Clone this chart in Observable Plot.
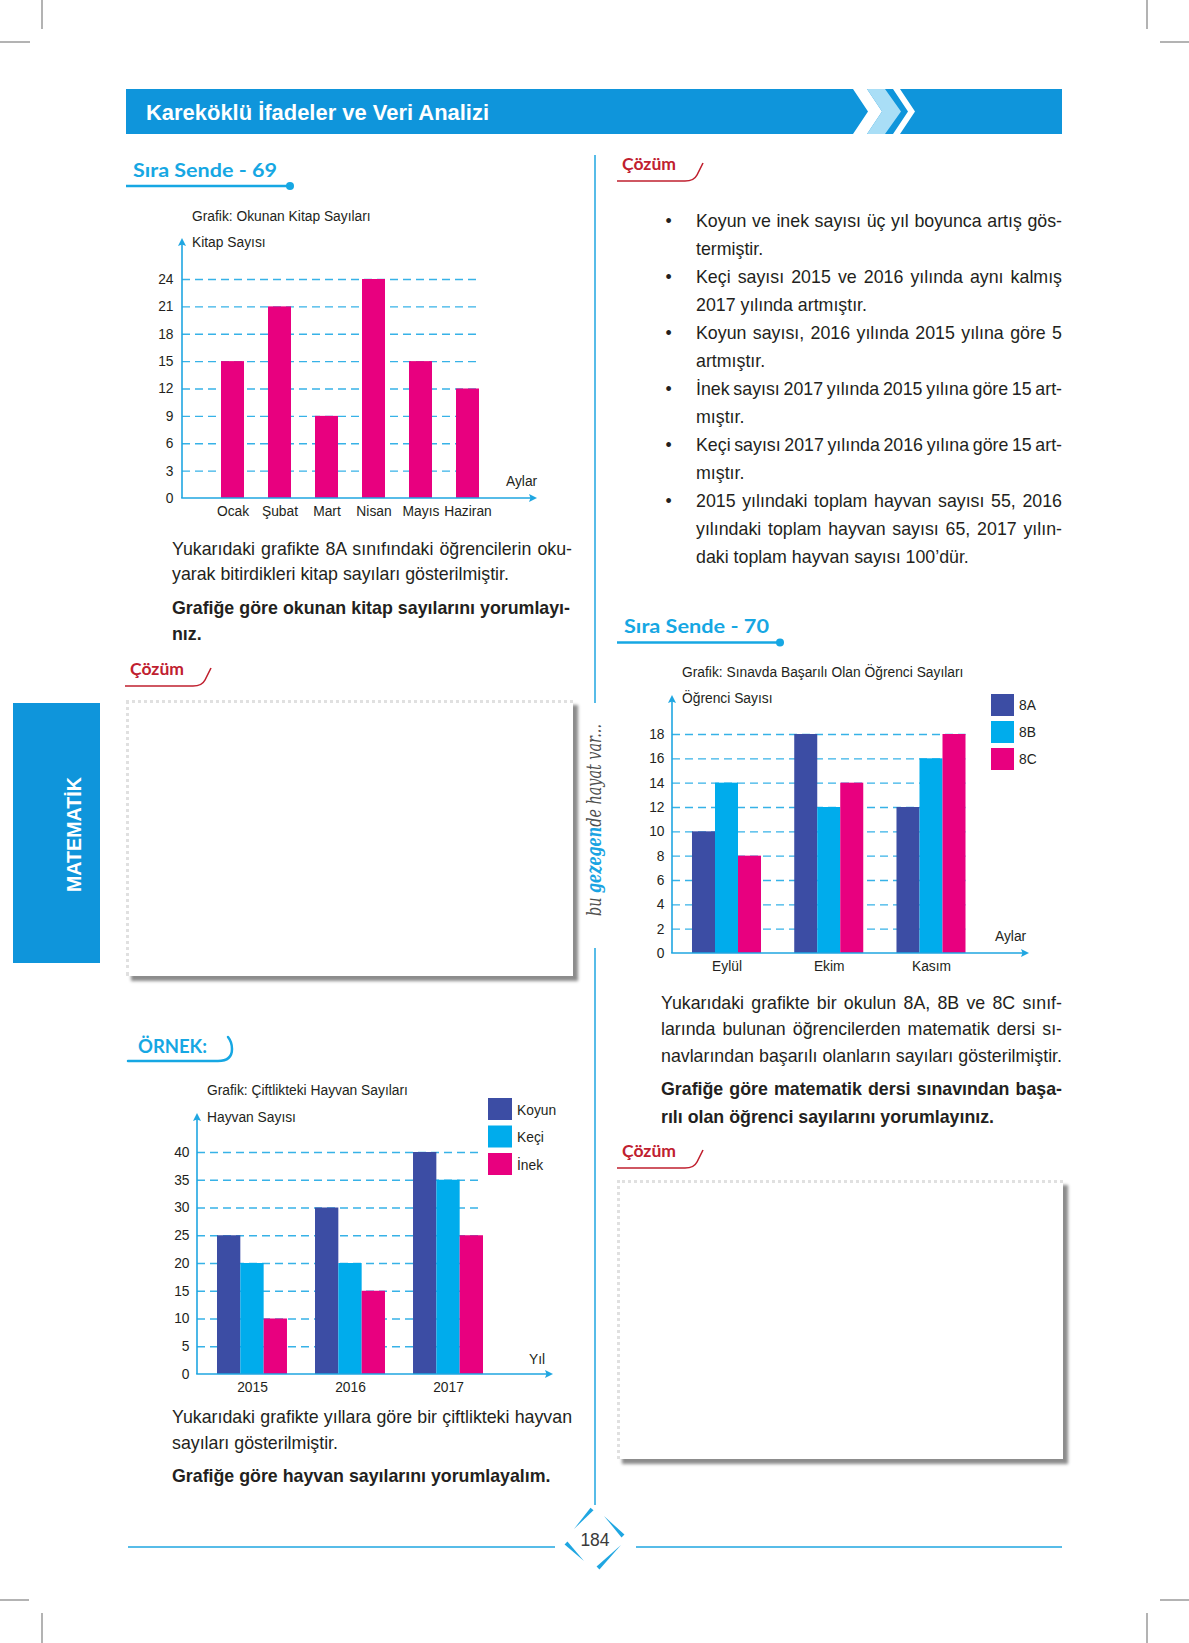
<!DOCTYPE html>
<html><head><meta charset="utf-8">
<script src="https://cdn.jsdelivr.net/npm/d3@7"></script>
<script src="https://cdn.jsdelivr.net/npm/@observablehq/plot@0.6"></script>
<style>
html,body{margin:0;padding:0;background:#fff;}
#page{position:relative;width:1189px;height:1643px;overflow:hidden;background:#fff;font-family:"Liberation Sans",Arial,sans-serif;}
.abs{position:absolute;left:0;top:0;}
.box{position:absolute;background:#fff;border-top:3px dotted #e0e0e0;border-left:3px dotted #e0e0e0;box-shadow:5px 5px 3px #8c8c8c;box-sizing:border-box;}
</style></head>
<body><div id="page"></div>
<script>
// ---------- data ----------
const months1 = ["Ocak", "Şubat", "Mart", "Nisan", "Mayıs", "Haziran"];
const books = [15, 21, 9, 24, 15, 12];
const yTicks1 = [0, 3, 6, 9, 12, 15, 18, 21, 24];

const months2 = ["Eylül", "Ekim", "Kasım"];
const classes = ["8A", "8B", "8C"];
const s8A = [10, 18, 12];
const s8B = [14, 12, 16];
const s8C = [8, 14, 18];
const yTicks2 = [0, 2, 4, 6, 8, 10, 12, 14, 16, 18];

const years = ["2015", "2016", "2017"];
const animals = ["Koyun", "Keçi", "İnek"];
const koyun = [25, 30, 40];
const keci = [20, 20, 35];
const inek = [10, 15, 25];
const yTicks3 = [0, 5, 10, 15, 20, 25, 30, 35, 40];

// ---------- styles ----------
const BODY = "Liberation Sans, Arial, sans-serif";
const INK = "#231f20";
const NAVY = "#3c4da4", CYAN = "#00acec", MAGENTA = "#e8007f";
const GRID = "#37b2e7", AXIS = "#1fa6e1", LINE = "#1fa6e1";
const HEAD = "#0f95db", HEADING = "#16a7e3", RED = "#c0202f";
const seriesColors = [NAVY, CYAN, MAGENTA];

const NS = "http://www.w3.org/2000/svg";
const page = document.getElementById("page");
const svg = document.createElementNS(NS, "svg");
svg.setAttribute("width", 1189); svg.setAttribute("height", 1643);
svg.setAttribute("class", "abs");
page.appendChild(svg);

function el(name, attrs, parent = svg) {
  const e = document.createElementNS(NS, name);
  for (const k in attrs) e.setAttribute(k, attrs[k]);
  parent.appendChild(e);
  return e;
}
function txt(x, y, s, o = {}, parent = svg) {
  const t = el("text", {x, y, "font-size": o.size || 17.8, "font-family": o.family || BODY, fill: o.fill || INK}, parent);
  if (o.weight) t.setAttribute("font-weight", o.weight);
  if (o.italic) t.setAttribute("font-style", "italic");
  if (o.anchor) t.setAttribute("text-anchor", o.anchor);
  t.textContent = s;
  if (o.justify) {
    const w = t.getComputedTextLength();
    const n = (s.match(/ /g) || []).length;
    if (n) t.setAttribute("word-spacing", ((o.justify - w) / n).toFixed(2));
  }
  if (o.len) { t.setAttribute("textLength", o.len); t.setAttribute("lengthAdjust", "spacingAndGlyphs"); }
  return t;
}

// ---------- page furniture ----------
[[42,0,42,29],[0,42,30,42],[1147,0,1147,29],[1160,42,1189,42],
 [0,1600,29,1600],[42,1613,42,1643],[1160,1600,1189,1600],[1147,1613,1147,1643]]
 .forEach(([x1,y1,x2,y2]) => el("line", {x1,y1,x2,y2,stroke:"#8a8a8a","stroke-width":1.3}));

el("rect", {x:126, y:89, width:936, height:45, fill:HEAD});
el("polygon", {points:"853,89 867,89 882,111.5 867,134 853,134 868,111.5", fill:"#fff"});
el("polygon", {points:"867,89 885,89 901,111.5 885,134 867,134 882,111.5", fill:"#a9def6"});
el("polygon", {points:"893,89 900,89 915,111.5 900,134 893,134 908,111.5", fill:"#fff"});
txt(146, 120, "Kareköklü İfadeler ve Veri Analizi", {size:21.6, weight:"bold", fill:"#fff", len:343});

// column divider
el("line", {x1:595, y1:155, x2:595, y2:703, stroke:LINE, "stroke-width":1.5});
el("line", {x1:595, y1:948, x2:595, y2:1505, stroke:LINE, "stroke-width":1.5});

// vertical script
const vs = el("text", {x:0, y:0, "font-size":21, "font-family":"DejaVu Serif, serif", "font-style":"italic", fill:"#4f4f4f",
  "text-anchor":"middle", transform:"translate(601,820) rotate(-90)", textLength:192, lengthAdjust:"spacingAndGlyphs"});
[["bu ", "#4f4f4f"], ["gezegen", "#1aa3e2"], ["de hayat var...", "#4f4f4f"]].forEach(([s, c]) => {
  const ts = el("tspan", {fill:c}, vs); ts.textContent = s; if (c !== "#4f4f4f") ts.setAttribute("font-weight", "bold");
});

// MATEMATİK tab
el("rect", {x:13, y:703, width:87, height:260, fill:HEAD});
el("text", {x:0, y:0, "font-size":20, "font-family":BODY, "font-weight":"bold", fill:"#fff", "text-anchor":"middle",
  transform:"translate(81,834.5) rotate(-90)", textLength:115, lengthAdjust:"spacingAndGlyphs"}).textContent = "MATEMATİK";

// headings
const HFONT = "Lato, DejaVu Sans, sans-serif";
function siraSende(x, y, s, len, lineStart, lineEnd) {
  txt(x, y, s, {size:18, weight:"bold", fill:HEADING, family:HFONT, len});
  el("line", {x1:lineStart, y1:y+9.5, x2:lineEnd, y2:y+9.5, stroke:HEADING, "stroke-width":2.5});
  el("circle", {cx:lineEnd, cy:y+9.5, r:4, fill:HEADING});
}
siraSende(133, 176.5, "Sıra Sende - 69", 144, 126, 290);
siraSende(624, 633, "Sıra Sende - 70", 145, 617, 780);

txt(138, 1053, "ÖRNEK:", {size:18, weight:"bold", fill:HEADING, family:HFONT, len:69});
el("path", {d:"M128,1061 H218 Q232,1061 232,1049 Q232,1042 228,1037", fill:"none", stroke:HEADING, "stroke-width":2.5, "stroke-linecap":"round"});

function cozum(x, y) {
  txt(x, y, "Çözüm", {size:17, weight:"bold", fill:RED, family:HFONT, len:54});
  const yl = y + 11;
  el("path", {d:`M${x-5},${yl} H${x+63} Q${x+72},${yl} ${x+75},${yl-6} L${x+81},${yl-18}`, fill:"none", stroke:RED, "stroke-width":1.6});
}
cozum(622, 170);
cozum(130, 675);
cozum(622, 1157);

// answer boxes
[[126,700,447,276],[617,1180,446,279]].forEach(([l,t,w,h]) => {
  const d = document.createElement("div"); d.className = "box";
  d.style.left = l + "px"; d.style.top = t + "px"; d.style.width = w + "px"; d.style.height = h + "px";
  page.appendChild(d);
});

// page number
el("line", {x1:128, y1:1547, x2:555, y2:1547, stroke:LINE, "stroke-width":1.3});
el("line", {x1:636, y1:1547, x2:1062, y2:1547, stroke:LINE, "stroke-width":1.3});
function taper(ax, ay, bx, by, w) {
  const dx = bx - ax, dy = by - ay, L = Math.hypot(dx, dy), nx = -dy / L * w / 2, ny = dx / L * w / 2;
  el("polygon", {points:`${ax},${ay} ${bx+nx},${by+ny} ${bx-nx},${by-ny}`, fill:LINE});
}
taper(574,1529, 592,1509, 4);
taper(604,1516, 623,1536, 4);
taper(621,1545, 598,1568, 4);
taper(584,1561, 566,1543, 4);
txt(595, 1546, "184", {size:17.5, fill:"#3a3a3a", anchor:"middle"});

// ---------- body text ----------
txt(172, 555, "Yukarıdaki grafikte 8A sınıfındaki öğrencilerin oku-", {justify:400});
txt(172, 580, "yarak bitirdikleri kitap sayıları gösterilmiştir.");
txt(172, 614, "Grafiğe göre okunan kitap sayılarını yorumlayı-", {weight:"bold", justify:398});
txt(172, 640, "nız.", {weight:"bold"});

txt(172, 1423, "Yukarıdaki grafikte yıllara göre bir çiftlikteki hayvan", {justify:400});
txt(172, 1449, "sayıları gösterilmiştir.");
txt(172, 1482, "Grafiğe göre hayvan sayılarını yorumlayalım.", {weight:"bold"});

const bullets = [
  ["Koyun ve inek sayısı üç yıl boyunca artış gös-", "termiştir."],
  ["Keçi sayısı 2015 ve 2016 yılında aynı kalmış", "2017 yılında artmıştır."],
  ["Koyun sayısı, 2016 yılında 2015 yılına göre 5", "artmıştır."],
  ["İnek sayısı 2017 yılında 2015 yılına göre 15 art-", "mıştır."],
  ["Keçi sayısı 2017 yılında 2016 yılına göre 15 art-", "mıştır."],
  ["2015 yılındaki toplam hayvan sayısı 55, 2016", "yılındaki toplam hayvan sayısı 65, 2017 yılın-", "daki toplam hayvan sayısı 100’dür."]
];
let li = 0;
bullets.forEach(lines => {
  lines.forEach((s, k) => {
    const by = 226.5 + 28 * li;
    if (k === 0) txt(668.5, by, "•", {anchor:"middle"});
    txt(696, by, s, k < lines.length - 1 ? {justify:366} : {});
    li++;
  });
});

txt(661, 1009, "Yukarıdaki grafikte bir okulun 8A, 8B ve 8C sınıf-", {justify:401});
txt(661, 1035, "larında bulunan öğrencilerden matematik dersi sı-", {justify:401});
txt(661, 1061.5, "navlarından başarılı olanların sayıları gösterilmiştir.", {justify:401});
txt(661, 1095, "Grafiğe göre matematik dersi sınavından başa-", {weight:"bold", justify:401});
txt(661, 1123, "rılı olan öğrenci sayılarını yorumlayınız.", {weight:"bold"});

// chart titles / axis names / legends
const CS = {size:13.8};
txt(192, 221, "Grafik: Okunan Kitap Sayıları", CS);
txt(192, 247, "Kitap Sayısı", CS);
txt(506, 486, "Aylar", CS);

txt(682, 677, "Grafik: Sınavda Başarılı Olan Öğrenci Sayıları", CS);
txt(682, 703, "Öğrenci Sayısı", CS);
txt(995, 940.5, "Aylar", CS);
classes.forEach((c, i) => {
  el("rect", {x:991, y:694 + 27 * i, width:23, height:22, fill:seriesColors[i]});
  txt(1019, 710 + 27 * i, c, CS);
});

txt(207, 1095, "Grafik: Çiftlikteki Hayvan Sayıları", CS);
txt(207, 1122, "Hayvan Sayısı", CS);
txt(529, 1364, "Yıl", CS);
animals.forEach((a, i) => {
  el("rect", {x:488, y:1098 + 27.5 * i, width:24, height:22, fill:seriesColors[i]});
  txt(517, 1114.5 + 27.5 * i, a, CS);
});

// ---------- charts ----------
const plotStyle = {background:"transparent", overflow:"visible", fontFamily:BODY, fontSize:"13.8px", color:INK};

function place(node, left, top) {
  const d = document.createElement("div");
  d.style.cssText = `position:absolute;left:${left}px;top:${top}px;`;
  d.appendChild(node); page.appendChild(d);
}
function drawAxes(plot, L, T, xEndPage, yTopPage) {
  const sx = plot.scale("x"), sy = plot.scale("y");
  const x0 = Math.min(...sx.range);
  const y0 = sy.apply ? sy.apply(0) : Math.max(...sy.range);
  const xe = xEndPage - L, yt = yTopPage - T;
  const g = d3.select(plot).append("g");
  g.append("path").attr("d", `M${x0},${y0}V${yt + 6}`).attr("stroke", AXIS).attr("stroke-width", 1.6).attr("fill", "none");
  g.append("path").attr("d", `M${x0 - 0.8},${y0}H${xe - 6}`).attr("stroke", AXIS).attr("stroke-width", 1.6).attr("fill", "none");
  g.append("path").attr("d", `M${x0},${yt}L${x0 + 4},${yt + 8}L${x0},${yt + 6.5}L${x0 - 4},${yt + 8}Z`).attr("fill", AXIS);
  g.append("path").attr("d", `M${xe},${y0}L${xe - 8},${y0 - 4}L${xe - 6.5},${y0}L${xe - 8},${y0 + 4}Z`).attr("fill", AXIS);
}

// Chart 1
const table1 = months1.map((month, i) => ({month, books: books[i]}));
const L1 = 130, T1 = 230;
const c1 = Plot.plot({
  width: 420, height: 300, marginLeft: 52, marginRight: 71, marginTop: 49, marginBottom: 32,
  style: plotStyle,
  x: {domain: months1, paddingInner: 0.519, paddingOuter: 0.366, align: 1, label: null, tickSize: 0, tickPadding: 8},
  y: {domain: [0, 24], ticks: yTicks1, label: null, tickSize: 0, tickPadding: 9},
  marks: [
    Plot.ruleY(yTicks1.filter(v => v > 0), {stroke: GRID, strokeWidth: 1.3, strokeDasharray: "8,5"}),
    Plot.barY(table1, {x: "month", y1: 0, y2: "books", fill: MAGENTA})
  ]
});
drawAxes(c1, L1, T1, 537, 238);
place(c1, L1, T1);

// Chart 2 (grouped)
const BW2 = 0.225;
const table2 = months2.flatMap((month, i) => classes.map((cls, j) => ({month, i, cls, j, value: [s8A, s8B, s8C][j][i]})));
const L2 = 600, T2 = 685;
const c2 = Plot.plot({
  width: 440, height: 305, marginLeft: 72, marginRight: 74.5, marginTop: 49, marginBottom: 37,
  style: plotStyle,
  x: {domain: [-0.533, 2 + 1.5 * BW2], ticks: [0, 1, 2], tickFormat: i => months2[i], label: null, tickSize: 0, tickPadding: 8},
  y: {domain: [0, 18], ticks: yTicks2, label: null, tickSize: 0, tickPadding: 8},
  color: {domain: classes, range: seriesColors},
  marks: [
    Plot.ruleY(yTicks2.filter(v => v > 0), {stroke: GRID, strokeWidth: 1.3, strokeDasharray: "8,5"}),
    Plot.rect(table2, {x1: d => d.i + (d.j - 1.5) * BW2, x2: d => d.i + (d.j - 0.5) * BW2, y1: 0, y2: "value", fill: "cls"})
  ]
});
drawAxes(c2, L2, T2, 1029, 695);
place(c2, L2, T2);

// Chart 3 (grouped)
const BW3 = 0.238;
const table3 = years.flatMap((year, i) => animals.map((animal, j) => ({year, i, animal, j, value: [koyun, keci, inek][j][i]})));
const L3 = 130, T3 = 1100;
const c3 = Plot.plot({
  width: 440, height: 310, marginLeft: 67, marginRight: 87, marginTop: 52, marginBottom: 36,
  style: plotStyle,
  x: {domain: [-0.561, 2 + 1.5 * BW3], ticks: [0, 1, 2], tickFormat: i => years[i], label: null, tickSize: 0, tickPadding: 8},
  y: {domain: [0, 40], ticks: yTicks3, label: null, tickSize: 0, tickPadding: 8},
  color: {domain: animals, range: seriesColors},
  marks: [
    Plot.ruleY(yTicks3.filter(v => v > 0), {stroke: GRID, strokeWidth: 1.3, strokeDasharray: "8,5"}),
    Plot.rect(table3, {x1: d => d.i + (d.j - 1.5) * BW3, x2: d => d.i + (d.j - 0.5) * BW3, y1: 0, y2: "value", fill: "animal"})
  ]
});
drawAxes(c3, L3, T3, 553, 1113);
place(c3, L3, T3);
</script>
</body></html>
